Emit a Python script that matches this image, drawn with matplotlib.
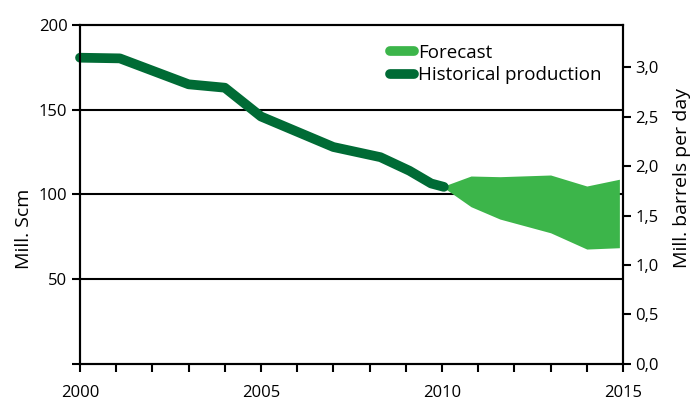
import matplotlib.pyplot as plt
from matplotlib.lines import Line2D
from matplotlib.ticker import FuncFormatter

plt.rcParams['font.family'] = ['Open Sans', 'DejaVu Sans']

# historical production, mill. Scm
hist_years = [2000, 2001.1, 2003, 2004, 2005, 2006, 2007, 2008.3, 2009.1, 2009.7, 2010.05]
hist_vals = [180.7, 180.3, 165, 163, 146, 137, 128, 122, 114, 106.5, 104.5]

# forecast band, mill. Scm
fc_years = [2010.05, 2010.8, 2011.6, 2013, 2014, 2014.9]
fc_upper = [105.0, 110.9, 110.5, 111.5, 105.0, 109.0]
fc_lower = [104.0, 92.8, 85.5, 77.4, 67.8, 68.6]

light = '#3cb54a'
dark = '#006b35'
scm_per_mbd = 58.4

fig = plt.figure(figsize=(6.91, 4.03), dpi=100)
ax = fig.add_axes([0.1158, 0.0968, 0.7858, 0.8412])

ax.fill_between(fc_years, fc_lower, fc_upper, color=light, lw=0, zorder=2)
ax.plot(hist_years, hist_vals, color=dark, lw=7, solid_capstyle='round',
        solid_joinstyle='round', zorder=3, clip_on=False)

ax.set_xlim(2000, 2015)
ax.set_ylim(0, 200)
ax.set_xticks(range(2000, 2016))
ax.set_xticklabels([str(y) if y % 5 == 0 else '' for y in range(2000, 2016)])
ax.set_yticks([0, 50, 100, 150, 200])
ax.set_yticklabels(['', '50', '100', '150', '200'])
for v in [50, 100, 150]:
    ax.axhline(v, color='black', lw=1.5, zorder=1)
for s in ax.spines.values():
    s.set_linewidth(1.5)
ax.tick_params(axis='both', direction='out', length=6, width=1.5, labelsize=12, pad=3)
ax.tick_params(axis='x', pad=9)
ax.set_ylabel('Mill. Scm', fontsize=14)
ax.yaxis.set_label_coords(-0.087, 0.40)

ax2 = ax.twinx()
ax2.set_ylim(0, 200 / scm_per_mbd)
ax2.set_yticks([0, 0.5, 1.0, 1.5, 2.0, 2.5, 3.0])
ax2.yaxis.set_major_formatter(FuncFormatter(lambda v, p: f'{v:.1f}'.replace('.', ',')))
ax2.tick_params(axis='y', direction='out', length=6, width=1.5, labelsize=12, pad=3)
for s in ax2.spines.values():
    s.set_linewidth(1.5)
ax2.set_ylabel('Mill. barrels per day', fontsize=14)
ax2.yaxis.set_label_coords(1.092, 0.55)

handles = [Line2D([], [], color=light, lw=7, solid_capstyle='round'),
           Line2D([], [], color=dark, lw=7, solid_capstyle='round')]
ax.legend(handles, ['Forecast', 'Historical production'], loc='upper left',
          bbox_to_anchor=(0.54, 0.995), frameon=False, fontsize=13.5,
          handlelength=1.3, handletextpad=0.2, labelspacing=0.25)

fig.savefig('out.png', dpi=100)
